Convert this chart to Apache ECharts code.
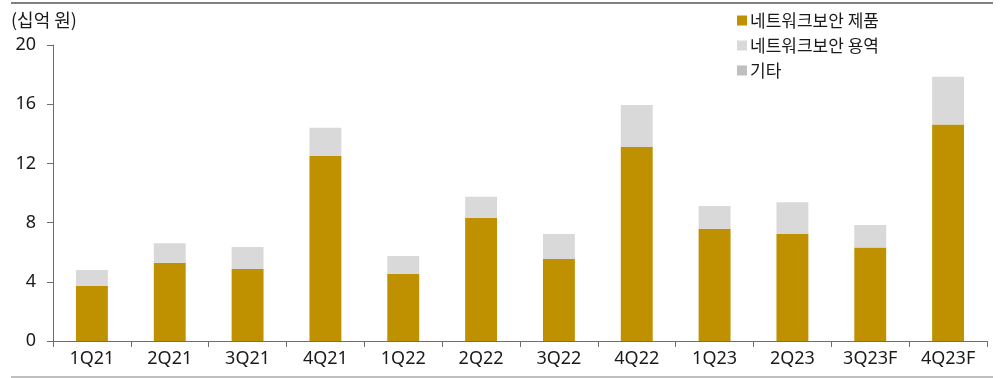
<!DOCTYPE html>
<html>
<head>
<meta charset="utf-8">
<script src="https://cdn.jsdelivr.net/npm/echarts@6/dist/echarts.min.js"></script>
<style>
  html, body { margin: 0; padding: 0; background: #fff; }
  #chart { width: 1001px; height: 378px; }
</style>
</head>
<body>
<div id="chart"></div>
<script>
// 분기별 매출 구성 (단위: 십억 원)
const quarters = ['1Q21', '2Q21', '3Q21', '4Q21', '1Q22', '2Q22', '3Q22', '4Q22', '1Q23', '2Q23', '3Q23F', '4Q23F'];
const productSales = [3.74, 5.29, 4.86, 12.52, 4.55, 8.33, 5.54, 13.11, 7.59, 7.23, 6.31, 14.62];
const serviceSales = [1.06, 1.31, 1.49, 1.89, 1.19, 1.42, 1.69, 2.84, 1.53, 2.14, 1.53, 3.24];
const otherSales   = [0, 0, 0, 0, 0, 0, 0, 0, 0, 0, 0, 0];
const seriesNames = ['네트워크보안 제품', '네트워크보안 용역', '기타'];
const yTicks = [0, 4, 8, 12, 16, 20];

const FONT = "'Noto Sans', 'Noto Sans CJK KR', sans-serif";
const KFONT = "'Noto Sans CJK KR', sans-serif";
const TEXT = '#1a1a1a';
const AXIS = '#6e6e6e';

const chart = echarts.init(document.getElementById('chart'), null, { renderer: 'canvas' });

const barCommon = { type: 'bar', stack: 'total', barWidth: '41%' };

chart.setOption({
  animation: false,
  backgroundColor: '#fff',
  textStyle: { fontFamily: FONT },
  grid: { left: 53, right: 14, top: 45, bottom: 37, containLabel: false },
  legend: {
    orient: 'vertical',
    left: 732,
    top: 7,
    itemWidth: 10,
    itemHeight: 10,
    itemGap: 8,
    icon: 'rect',
    textStyle: { fontFamily: KFONT, fontSize: 17, color: TEXT, padding: [0, 0, 0, -2] },
    data: seriesNames
  },
  xAxis: {
    type: 'category',
    data: quarters,
    boundaryGap: true,
    axisLine: { lineStyle: { color: AXIS, width: 1 } },
    axisTick: { show: true, length: 6, alignWithLabel: false, lineStyle: { color: AXIS } },
    axisLabel: { fontFamily: FONT, fontSize: 18, color: TEXT, margin: 9, interval: 0 }
  },
  yAxis: {
    type: 'value',
    min: yTicks[0],
    max: yTicks[yTicks.length - 1],
    interval: yTicks[1] - yTicks[0],
    axisLine: { show: true, lineStyle: { color: AXIS, width: 1 } },
    axisTick: { show: true, length: 6, lineStyle: { color: AXIS } },
    splitLine: { show: false },
    axisLabel: { fontFamily: FONT, fontSize: 18, color: TEXT, margin: 17 }
  },
  graphic: [
    { type: 'text', x: 11, y: 20, style: { text: '(십억 원)', font: "18px 'Noto Sans CJK KR', sans-serif", fill: TEXT, verticalAlign: 'middle' } },
    { type: 'line', shape: { x1: 11, y1: 3, x2: 993, y2: 3 }, style: { stroke: '#808080', lineWidth: 2 } },
    { type: 'line', shape: { x1: 11, y1: 377, x2: 993, y2: 377 }, style: { stroke: '#808080', lineWidth: 1 } }
  ],
  series: [
    Object.assign({}, barCommon, { name: seriesNames[0], data: productSales, itemStyle: { color: '#BF9000' } }),
    Object.assign({}, barCommon, { name: seriesNames[1], data: serviceSales, itemStyle: { color: '#D9D9D9' } }),
    Object.assign({}, barCommon, { name: seriesNames[2], data: otherSales, itemStyle: { color: '#BFBFBF' } })
  ]
});
</script>
</body>
</html>
